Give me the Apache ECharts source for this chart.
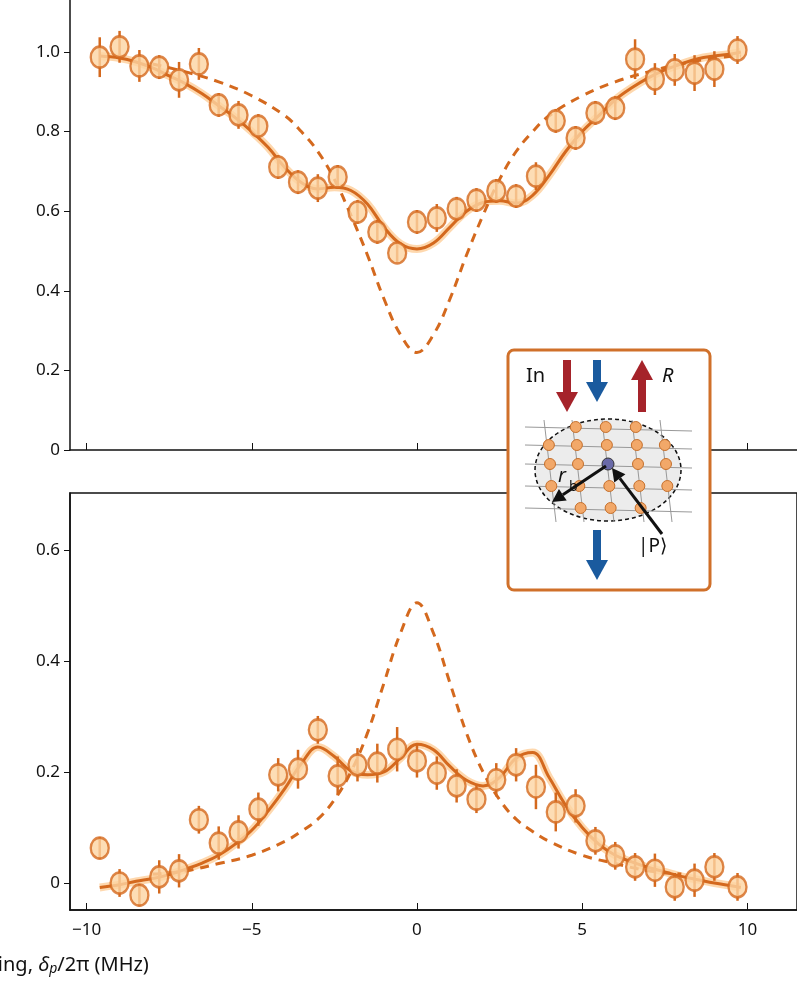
<!DOCTYPE html>
<html>
<head>
<meta charset="UTF-8">
<title>chart</title>
<script src="https://cdn.jsdelivr.net/npm/echarts@6/dist/echarts.min.js"></script>
<style>html,body{margin:0;background:#fff}#main{width:797px;height:991px}</style>
</head>
<body>
<div id="main"></div>
<script>
// measured points (detuning in MHz)
var ptX = [-9.6,-9.0,-8.4,-7.8,-7.2,-6.6,-6.0,-5.4,-4.8,-4.2,-3.6,-3.0,-2.4,-1.8,-1.2,-0.6,0.0,0.6,1.2,1.8,2.4,3.0,3.6,4.2,4.8,5.4,6.0,6.6,7.2,7.8,8.4,9.0,9.7];
var topY = [0.987,1.013,0.965,0.962,0.93,0.97,0.867,0.842,0.814,0.711,0.673,0.658,0.686,0.598,0.548,0.495,0.573,0.583,0.606,0.628,0.651,0.638,0.688,0.827,0.784,0.847,0.859,0.982,0.932,0.955,0.947,0.957,1.005];
var topErr = [0.05,0.04,0.04,0.03,0.045,0.04,0.03,0.035,0.03,0.03,0.03,0.035,0.03,0.03,0.03,0.025,0.03,0.035,0.03,0.03,0.03,0.03,0.035,0.03,0.03,0.03,0.03,0.05,0.04,0.04,0.045,0.045,0.035];
var botY = [0.063,0.0,-0.022,0.011,0.022,0.114,0.072,0.092,0.133,0.195,0.205,0.276,0.193,0.213,0.216,0.241,0.22,0.198,0.175,0.151,0.186,0.213,0.173,0.128,0.139,0.076,0.049,0.029,0.023,-0.007,0.005,0.029,-0.007];
var botErr = [0.02,0.025,0.02,0.03,0.03,0.025,0.03,0.03,0.03,0.03,0.035,0.025,0.035,0.03,0.035,0.04,0.03,0.03,0.03,0.025,0.03,0.03,0.04,0.035,0.03,0.025,0.025,0.025,0.03,0.025,0.03,0.025,0.025];

// fitted curves
var fitX = [-9.6,-9,-8.5,-8,-7.5,-7,-6.5,-6,-5.5,-5,-4.5,-4,-3.5,-3,-2.5,-2,-1.5,-1,-0.5,0,0.5,1,1.5,2,2.5,3,3.5,4,4.5,5,5.5,6,6.5,7,7.5,8,8.5,9,9.5,9.8];
var topFit = [0.99,0.985,0.975,0.96,0.94,0.92,0.895,0.865,0.835,0.8,0.76,0.71,0.672,0.656,0.66,0.652,0.618,0.56,0.518,0.505,0.52,0.56,0.6,0.622,0.626,0.62,0.64,0.69,0.75,0.8,0.84,0.88,0.91,0.935,0.955,0.97,0.983,0.99,0.995,1.0];
var botFit = [-0.008,-0.003,0.003,0.008,0.015,0.025,0.036,0.05,0.07,0.095,0.13,0.17,0.215,0.245,0.228,0.202,0.195,0.2,0.225,0.25,0.24,0.21,0.185,0.175,0.19,0.225,0.235,0.19,0.14,0.1,0.07,0.05,0.038,0.028,0.02,0.012,0.006,0.0,-0.005,-0.008];
var dashX = [-8,-7,-6,-5,-4,-3.5,-3,-2.5,-2,-1.5,-1,-0.5,0,0.5,1,1.5,2,2.5,3,3.5,4,5,6,7,8,9,9.8];
var topDash = [0.97,0.95,0.925,0.89,0.84,0.80,0.75,0.68,0.59,0.49,0.38,0.29,0.245,0.29,0.38,0.49,0.59,0.68,0.75,0.80,0.84,0.89,0.925,0.95,0.97,0.985,0.99];
var botDash = [0.016,0.022,0.035,0.05,0.075,0.093,0.115,0.15,0.2,0.27,0.36,0.45,0.505,0.45,0.36,0.27,0.2,0.15,0.115,0.093,0.075,0.05,0.035,0.022,0.016,null,null];
var xTicks = [-10, -5, 0, 5, 10];
var topTicks = [0, 0.2, 0.4, 0.6, 0.8, 1.0];
var botTicks = [0, 0.2, 0.4, 0.6];

var C = '#d4691e';
function zip(a, b) { return a.map(function (v, i) { return [v, b[i]]; }); }
function errData(x, y, e) { return x.map(function (v, i) { return [v, y[i] - e[i], y[i] + e[i]]; }); }

function panel(gi, y, err, fit, dash) {
  return [
    { type: 'line', xAxisIndex: gi, yAxisIndex: gi, data: zip(fitX, fit), smooth: 0.4, showSymbol: false,
      lineStyle: { color: 'rgba(253,200,140,0.7)', width: 8 }, z: 2 },
    { type: 'line', xAxisIndex: gi, yAxisIndex: gi, data: zip(fitX, fit), smooth: 0.4, showSymbol: false,
      lineStyle: { color: C, width: 3 }, z: 3 },
    { type: 'line', xAxisIndex: gi, yAxisIndex: gi, data: zip(dashX, dash), smooth: 0.4, showSymbol: false,
      lineStyle: { color: C, width: 3, type: [9, 7] }, z: 3 },
    { type: 'custom', xAxisIndex: gi, yAxisIndex: gi, data: errData(ptX, y, err), z: 4,
      renderItem: function (params, api) {
        var a = api.coord([api.value(0), api.value(1)]);
        var b = api.coord([api.value(0), api.value(2)]);
        return { type: 'line', shape: { x1: a[0], y1: a[1], x2: b[0], y2: b[1] }, style: { stroke: C, lineWidth: 2.5 } };
      } },
    { type: 'scatter', xAxisIndex: gi, yAxisIndex: gi, data: zip(ptX, y), symbol: 'circle', symbolSize: [18, 21], z: 5,
      itemStyle: { color: '#fdd5a2', borderColor: C, borderWidth: 2.5 } }
  ];
}

function arrow(x1, y1, x2, y2, color, w, hw, hl) {
  var dx = x2 - x1, dy = y2 - y1, L = Math.sqrt(dx * dx + dy * dy);
  var ux = dx / L, uy = dy / L, bx = x2 - ux * hl, by = y2 - uy * hl;
  return [
    { type: 'line', shape: { x1: x1, y1: y1, x2: bx, y2: by }, style: { stroke: color, lineWidth: w }, z: 20 },
    { type: 'polygon', shape: { points: [[x2, y2], [bx - uy * hw, by + ux * hw], [bx + uy * hw, by - ux * hw]] }, style: { fill: color }, z: 20 }
  ];
}

var g = [
  { type: 'rect', shape: { x: 508, y: 350, width: 202, height: 240, r: 6 }, style: { fill: '#fff', stroke: '#d0702a', lineWidth: 3 }, z: 10 },
  { type: 'text', x: 526, y: 366, style: { text: 'In', font: '20px "Noto Sans"', fill: '#111' }, z: 20 },
  { type: 'text', x: 662, y: 366, style: { text: 'R', font: 'italic 20px "Noto Sans"', fill: '#111' }, z: 20 },
  { type: 'ellipse', shape: { cx: 608, cy: 470, rx: 73, ry: 51 }, style: { fill: '#ececec', stroke: '#111', lineWidth: 1.5, lineDash: [4, 3] }, z: 15 },
  { type: 'text', x: 558, y: 466, style: { text: 'r', font: 'italic 20px "Noto Sans"', fill: '#111' }, z: 21 },
  { type: 'text', x: 569, y: 480, style: { text: 'b', font: '14px "Noto Sans"', fill: '#111' }, z: 21 },
  { type: 'text', x: 638, y: 537, style: { text: '|P⟩', font: '19px "Noto Sans"', fill: '#111' }, z: 21 }
];
[-58, -30, 0, 30, 58].forEach(function (ox) {
  g.push({ type: 'line', shape: { x1: 608 + ox - 6, y1: 420, x2: 608 + ox + 6, y2: 522 }, style: { stroke: '#999', lineWidth: 1 }, z: 16 });
});
[427, 445, 464, 486, 508].forEach(function (yy) {
  g.push({ type: 'line', shape: { x1: 525, y1: yy, x2: 692, y2: yy + 4 }, style: { stroke: '#999', lineWidth: 1 }, z: 16 });
  [-58, -30, 0, 30, 58].forEach(function (ox) {
    var x = 608 + ox + (yy - 464) * 0.06;
    var inside = Math.pow(ox / 72, 2) + Math.pow((yy - 468) / 50, 2) < 1.05;
    if (inside && !(ox === 0 && yy === 464))
      g.push({ type: 'circle', shape: { cx: x, cy: yy, r: 5.5 }, style: { fill: '#f2a869', stroke: '#c6702c', lineWidth: 1 }, z: 17 });
  });
});
g.push({ type: 'circle', shape: { cx: 608, cy: 464, r: 6 }, style: { fill: '#6a6aa8', stroke: '#333', lineWidth: 1 }, z: 18 });
g = g.concat(arrow(567, 360, 567, 412, '#a5232a', 8, 11, 20));
g = g.concat(arrow(597, 360, 597, 402, '#1a5a9e', 8, 11, 20));
g = g.concat(arrow(642, 412, 642, 360, '#a5232a', 8, 11, 20));
g = g.concat(arrow(597, 530, 597, 580, '#1a5a9e', 8, 11, 20));
g = g.concat(arrow(606, 466, 552, 502, '#111', 3, 7, 13));
g = g.concat(arrow(662, 534, 612, 468, '#111', 3, 7, 13));
g.push({ type: 'text', left: -60, top: 955, style: { text: '{n|Detuning, }{i|δ}{s|p}{n|/2π (MHz)}', rich: {
  n: { font: '20px "Noto Sans"', fill: '#111' }, i: { font: 'italic 20px "Noto Sans"', fill: '#111' },
  s: { font: 'italic 14px "Noto Sans"', fill: '#111', verticalAlign: 'bottom', padding: [8, 0, 0, 0] } } } });

var labFmt = function (v) { return Math.abs(v) < 1e-9 ? '0' : v.toFixed(1); };
function yAx(gi, min, max, ticks) {
  return { gridIndex: gi, min: min, max: max, splitLine: { show: false },
    axisLine: { show: true, onZero: false, lineStyle: { color: '#111', width: 1.5 } },
    axisTick: { length: 6, lineStyle: { color: '#111' }, customValues: ticks },
    axisLabel: { formatter: labFmt, color: '#111', fontSize: 17, fontFamily: 'Noto Sans', margin: 10, customValues: ticks } };
}
function xAx(gi, labels) {
  return { gridIndex: gi, type: 'value', min: -10.5, max: 11.5, splitLine: { show: false },
    axisLine: { onZero: false, lineStyle: { color: '#111', width: 1.5 } },
    axisTick: { inside: true, length: 7, lineStyle: { color: '#111' }, customValues: xTicks },
    axisLabel: { show: labels, customValues: xTicks, formatter: function (v) { return v < 0 ? '\u2212' + (-v) : '' + v; },
      color: '#111', fontSize: 17, fontFamily: 'Noto Sans', margin: 12 } };
}

var option = {
  animation: false,
  grid: [
    { left: 70, width: 750, top: 0, height: 450 },
    { left: 70, width: 750, top: 493, height: 417, show: true, borderColor: '#111', borderWidth: 1.5 }
  ],
  xAxis: [xAx(0, false), xAx(1, true)],
  yAxis: [yAx(0, 0, 450 / 398, topTicks), yAx(1, -27 / 555, 390 / 555, botTicks)],
  series: panel(0, topY, topErr, topFit, topDash).concat(panel(1, botY, botErr, botFit, botDash)),
  graphic: g
};
echarts.init(document.getElementById('main')).setOption(option);
</script>
</body>
</html>
